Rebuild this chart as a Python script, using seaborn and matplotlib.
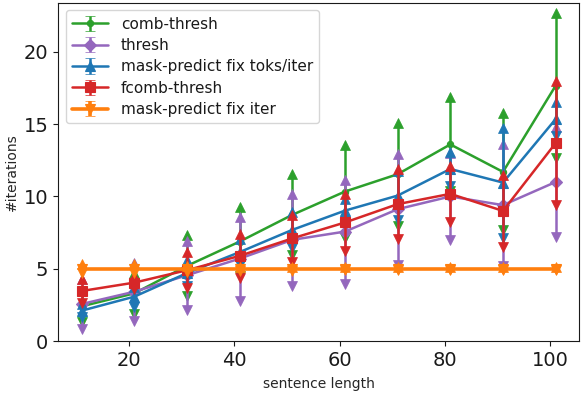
import numpy as np
import pandas as pd
import matplotlib
matplotlib.use("Agg")
import matplotlib.pyplot as plt
import seaborn as sns
from matplotlib.legend_handler import HandlerTuple

# data
sentence_len = [11, 21, 31, 41, 51, 61, 71, 81, 91, 101]

comb_mean = [2.4, 3.3, 5.2, 6.88, 8.73, 10.34, 11.54, 13.6, 11.7, 17.66]
comb_std = [1.1, 1.4, 2.1, 2.4, 2.8, 3.2, 3.55, 3.25, 4.05, 5.0]

thresh_mean = [2.56, 3.41, 4.55, 5.7, 7.0, 7.57, 9.12, 10.0, 9.4, 11.0]
thresh_std = [1.75, 2.0, 2.4, 2.9, 3.2, 3.6, 3.85, 3.0, 4.2, 3.8]

toks_mean = [2.1, 3.07, 4.7, 6.15, 7.69, 9.02, 10.06, 11.9, 10.96, 15.35]
toks_std = [0.45, 0.7, 0.9, 0.9, 1.26, 0.8, 1.7, 1.15, 3.8, 1.2]

fcomb_mean = [3.46, 4.04, 4.9, 5.89, 7.1, 8.2, 9.47, 10.18, 9.0, 13.69]
fcomb_std = [0.8, 0.45, 1.25, 1.5, 1.6, 2.0, 2.4, 1.95, 2.5, 4.3]

iter_mean = [5.0, 5.0, 5.0, 5.0, 5.0, 5.0, 5.0, 5.0, 5.0, 5.0]
iter_std = [0.3, 0.3, 0.2, 0.15, 0.15, 0.1, 0.1, 0.1, 0.1, 0.1]

names = ["comb-thresh", "thresh", "mask-predict fix toks/iter",
         "fcomb-thresh", "mask-predict fix iter"]

sns.set_style("ticks")
plt.rcParams['font.family'] = ['DejaVu Sans']
plt.rcParams['text.color'] = '0.1'
plt.rcParams['axes.edgecolor'] = '0.1'

fig, ax = plt.subplots(figsize=(5.82, 3.94), dpi=100)
fig.subplots_adjust(left=0.0997, right=0.9954, bottom=0.1345, top=0.993)

series = [
    (names[0], comb_mean, comb_std, "#2ca02c", "o", 4.5, 1.8),
    (names[1], thresh_mean, thresh_std, "#9467bd", "D", 6.5, 1.8),
    (names[2], toks_mean, toks_std, "#1f77b4", "^", 7.5, 1.8),
    (names[3], fcomb_mean, fcomb_std, "#d62728", "s", 7.5, 1.8),
    (names[4], iter_mean, iter_std, "#ff7f0e", "v", 7.5, 2.6),
]

handles = []
for name, mean, std, color, marker, ms, lw in series:
    df = pd.DataFrame({"len": sentence_len, "iters": mean})
    sns.lineplot(data=df, x="len", y="iters", color=color, marker=marker,
                 markersize=ms, markeredgecolor=color, markeredgewidth=0.8,
                 linewidth=lw, ax=ax, legend=False)
    line = ax.lines[-1]
    eb = ax.errorbar(sentence_len, mean, yerr=std, fmt="none", ecolor=color,
                     elinewidth=lw, capsize=3, capthick=1.2)
    # arrow-like caps at the ends of the bars
    low_cap, high_cap = eb.lines[1]
    for cap, m in [(low_cap, "v"), (high_cap, "^")]:
        cap.set_marker(m)
        cap.set_markersize(6.5)
        cap.set_markerfacecolor(color)
        cap.set_markeredgecolor(color)
        cap.set_markeredgewidth(0.5)
    handles.append((eb, line))

ax.set_xlim(6.5, 105.5)
ax.set_ylim(0, 23.4)
ax.set_xticks([20, 40, 60, 80, 100])
ax.set_yticks([0, 5, 10, 15, 20])
ax.tick_params(labelsize=14, colors='0.1')
ax.set_xlabel("sentence length", fontsize=10, labelpad=5)
ax.set_ylabel("#iterations", fontsize=10, labelpad=3)

ax.legend(handles=handles, labels=names, loc="upper left", fontsize=11,
          handlelength=2.4, labelspacing=0.42,
          handler_map={tuple: HandlerTuple(ndivide=1)})

plt.savefig("out.png", dpi=100)
